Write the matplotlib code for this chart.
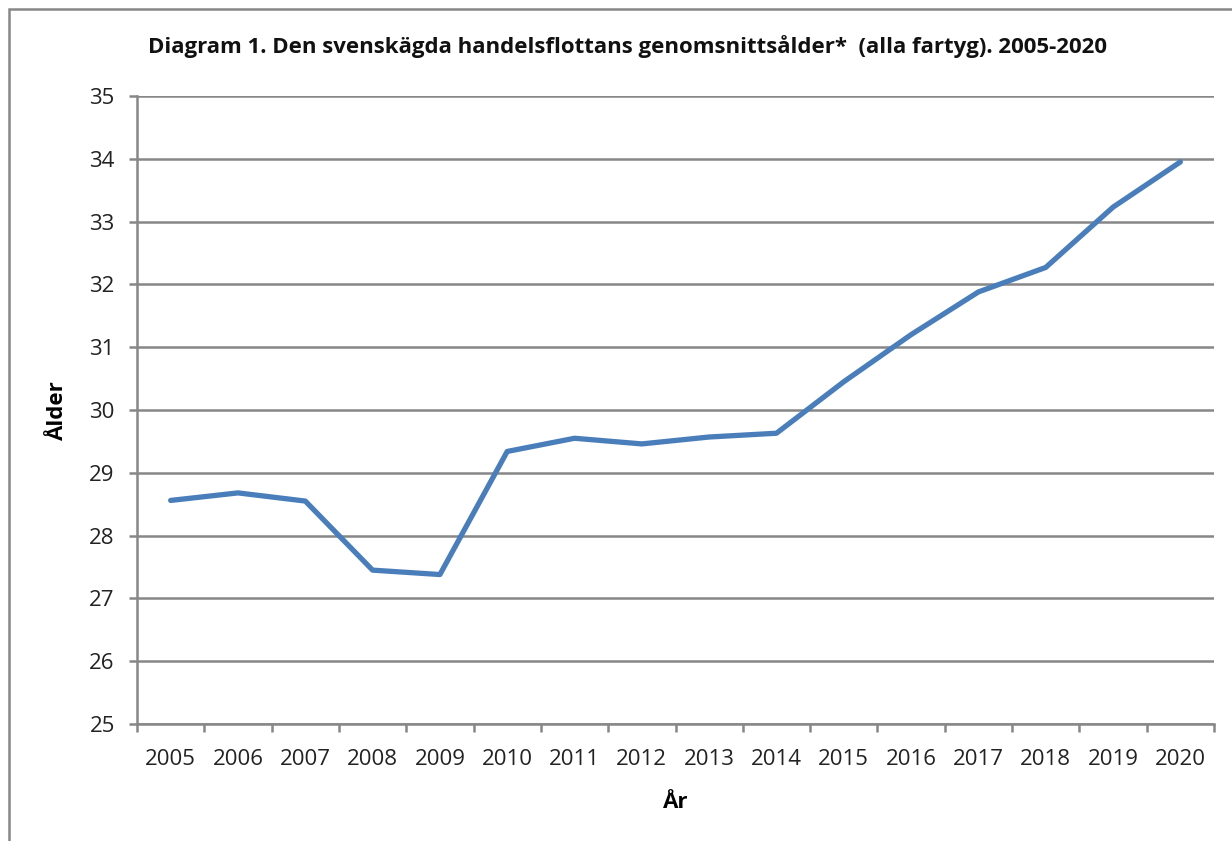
import numpy as np
import matplotlib.pyplot as plt
from matplotlib.patches import Rectangle

# genomsnittsålder per år
years = ["2005", "2006", "2007", "2008", "2009", "2010", "2011", "2012",
         "2013", "2014", "2015", "2016", "2017", "2018", "2019", "2020"]
age = [28.56, 28.68, 28.55, 27.45, 27.38, 29.34, 29.55, 29.46,
       29.57, 29.63, 30.45, 31.2, 31.88, 32.27, 33.23, 33.95]

plt.rcParams['font.family'] = ['Open Sans', 'DejaVu Sans']

fig = plt.figure(figsize=(12.32, 8.41), dpi=100)
ax = fig.add_axes([137/1232, 1 - 724/841, (1214 - 137)/1232, (724 - 96)/841])

grey = "#878787"
x = np.arange(len(years))
ax.plot(x, age, color="#4A7EBB", linewidth=3.8, solid_capstyle="round", solid_joinstyle="round", zorder=3)

ax.set_xlim(-0.5, len(years) - 0.5)
ax.set_ylim(25, 35)
ax.set_yticks(range(25, 36))
ax.yaxis.grid(True, color=grey, linewidth=1.8)
ax.set_axisbelow(True)

# tick marks between categories, labels in the middle
ax.set_xticks(np.arange(-0.5, len(years), 1))
ax.set_xticklabels([])
ax.set_xticks(x, minor=True)
ax.set_xticklabels(years, minor=True)
ax.tick_params(axis="x", which="major", length=6, width=1.8, color=grey, direction="out")
ax.tick_params(axis="x", which="minor", length=0, labelsize=16, pad=18, colors="#222222")
ax.tick_params(axis="y", length=6, width=1.8, color=grey, labelsize=16, pad=10, labelcolor="#222222")

for s in ["top", "right"]:
    ax.spines[s].set_visible(False)
for s in ["left", "bottom"]:
    ax.spines[s].set_color(grey)
    ax.spines[s].set_linewidth(1.8)

ax.set_xlabel("År", fontsize=16, fontweight="bold", labelpad=16)
ax.set_ylabel("Ålder", fontsize=16, fontweight="bold", labelpad=15)

fig.text(628/1232, 1 - 47/841, "Diagram 1. Den svenskägda handelsflottans genomsnittsålder*  (alla fartyg). 2005-2020",
         ha="center", va="center", fontsize=16, fontweight="bold", color="#111111")

# ram runt diagrammet
fig.patches.append(Rectangle((9/1232, -0.01), 1.0, 1 - 9/841 + 0.01, transform=fig.transFigure,
                             fill=False, edgecolor=grey, linewidth=1.8))

fig.savefig("out.png", dpi=100)
